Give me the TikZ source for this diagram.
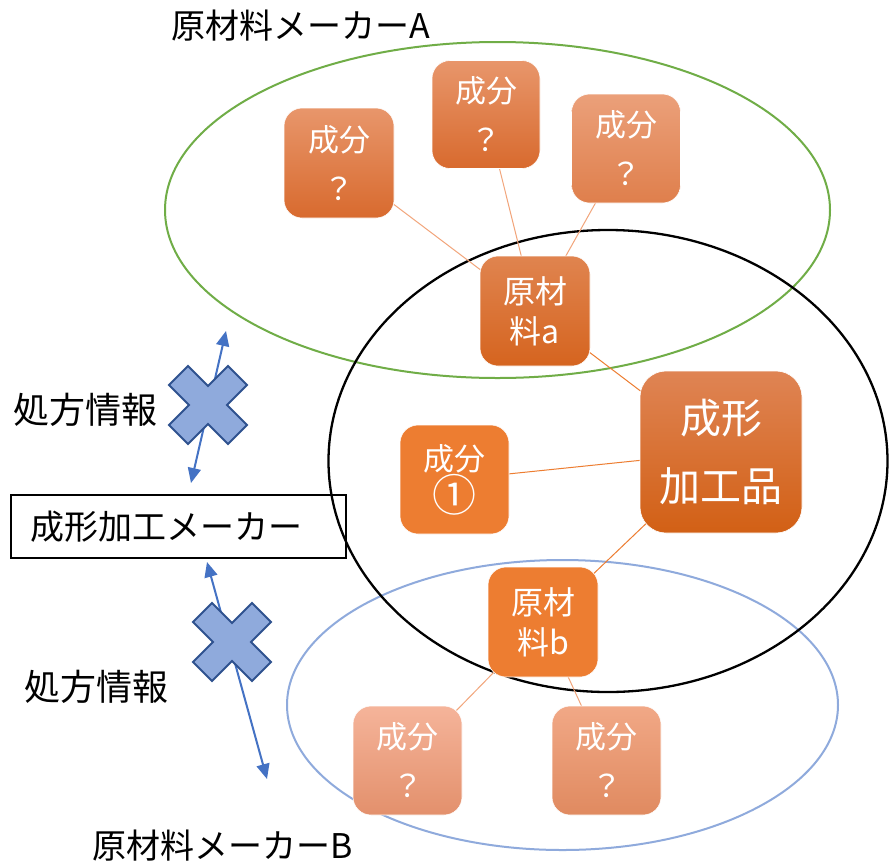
\documentclass[tikz,border=0pt]{standalone}
\usepackage{fontspec}
\setmainfont{Noto Sans CJK JP}
\usetikzlibrary{shapes.geometric,arrows.meta}
\definecolor{orgA}{HTML}{ED7D31}
\definecolor{qTop}{HTML}{E8966B}
\definecolor{qBot}{HTML}{D86A2E}
\definecolor{q3Top}{HTML}{EBA07A}
\definecolor{q3Bot}{HTML}{DF7F4C}
\definecolor{raTop}{HTML}{E0844F}
\definecolor{raBot}{HTML}{D5641F}
\definecolor{skTop}{HTML}{DF8454}
\definecolor{skBot}{HTML}{D26015}
\definecolor{b1Top}{HTML}{F5B49A}
\definecolor{b1Bot}{HTML}{E3906C}
\definecolor{b2Top}{HTML}{F1A886}
\definecolor{b2Bot}{HTML}{E08A60}
\definecolor{lnLight}{HTML}{F2A57B}
\definecolor{ellGreen}{HTML}{70AD47}
\definecolor{ellBlue}{HTML}{8FAADC}
\definecolor{arrBlue}{HTML}{4472C4}
\definecolor{xFill}{HTML}{8FAADC}
\definecolor{xLine}{HTML}{2F528F}
\tikzset{
  box/.style={rounded corners=18pt, minimum width=108pt, minimum height=108pt,
    text=white, align=center, inner sep=0pt, draw=white, line width=0.6pt,
    font=\fontsize{31}{49}\selectfont},
  blabel/.style={font=\fontsize{34}{40}\selectfont, text=black, inner sep=0pt},
  thinline/.style={draw=lnLight, line width=1pt},
  darkline/.style={draw=orgA, line width=1pt},
  ell/.style={ellipse, inner sep=0pt},
  barrow/.style={draw=arrBlue, line width=2pt, {Triangle[length=15pt,width=13pt]}-{Triangle[length=15pt,width=13pt]}},
  xmark/.pic={\draw[fill=xFill, draw=xLine, line width=2pt, line join=miter]
    (-20,-39) -- (0,-19) -- (20,-39) -- (39,-20) -- (19,0) -- (39,20) -- (20,39) -- (0,19)
    -- (-20,39) -- (-39,20) -- (-19,0) -- (-39,-20) -- cycle;}
}
\begin{document}
\begin{tikzpicture}[x=1pt,y=-1pt]
\useasboundingbox[fill=white] (0,0) rectangle (889,863);

% ellipses
\node[ell, draw=ellGreen, line width=2pt, minimum width=665pt, minimum height=336pt] (eA) at (497.5,210) {};
\node[ell, draw=ellBlue, line width=2pt, minimum width=551pt, minimum height=290pt] (eB) at (562.5,705) {};
\node[ell, draw=black, line width=2.3pt, minimum width=559pt, minimum height=462pt] (eC) at (608,461) {};

% coordinates of boxes
\coordinate (pc1) at (339,163);
\coordinate (pc2) at (486,114.5);
\coordinate (pc3) at (626,148.5);
\coordinate (pra) at (535,311);
\coordinate (psk) at (721,452);
\coordinate (ps1) at (454.5,479.5);
\coordinate (prb) at (543,622);
\coordinate (pb1) at (407.5,760.5);
\coordinate (pb2) at (606.5,760.5);

% connectors
\draw[thinline] (pc1) -- (pra);
\draw[thinline] (pc2) -- (pra);
\draw[thinline] (pc3) -- (pra);
\draw[darkline] (pra) -- (psk);
\draw[darkline] (ps1) -- (psk);
\draw[darkline] (psk) -- (prb);
\draw[thinline] (prb) -- (pb1);
\draw[thinline] (prb) -- (pb2);

% boxes
\node[box, top color=qTop, bottom color=qBot, minimum width=110pt, minimum height=110pt] (c1) at (pc1) {成分\\？};
\node[box, top color=qTop, bottom color=qBot] (c2) at (pc2) {成分\\？};
\node[box, top color=q3Top, bottom color=q3Bot, minimum width=109pt, minimum height=109pt] (c3) at (pc3) {成分\\？};
\node[box, top color=raTop, bottom color=raBot, minimum width=110pt, minimum height=110pt, font=\fontsize{32}{40}\selectfont] (ra) at (pra) {原材\\料a};
\node[box, top color=skTop, bottom color=skBot, rounded corners=26pt, minimum width=162pt, minimum height=162pt, font=\fontsize{41}{68}\selectfont] (sk) at (psk) {成形\\加工品};
\node[box, fill=orgA, minimum width=109pt, minimum height=109pt, font=\fontsize{31}{37}\selectfont] (s1) at (ps1) {成分\\{\fontsize{44}{37}\selectfont ①}};
\node[box, fill=orgA, minimum width=110pt, minimum height=110pt, font=\fontsize{32}{40}\selectfont] (rb) at (prb) {原材\\料b};
\node[box, top color=b1Top, bottom color=b1Bot, minimum width=109pt, minimum height=109pt] (b1) at (pb1) {成分\\？};
\node[box, top color=b2Top, bottom color=b2Bot, minimum width=109pt, minimum height=109pt] (b2) at (pb2) {成分\\？};

% labels
\node[blabel] (tA) at (301,26) {原材料メーカーA};
\node[blabel] (tB) at (223,846) {原材料メーカーB};
\node[blabel, font=\fontsize{36}{40}\selectfont] (sh1) at (85,410) {処方情報};
\node[blabel, font=\fontsize{36}{40}\selectfont] (sh2) at (96,687) {処方情報};
\node[draw=black, line width=1.5pt, font=\fontsize{34}{40}\selectfont, anchor=west,
  text width=295pt, align=left, inner xsep=20pt, minimum height=63pt] (mk) at (10,526.5) {成形加工メーカー};

% arrows
\coordinate (a1s) at (191,483);
\coordinate (a1e) at (226,331);
\coordinate (a2s) at (207,562);
\coordinate (a2e) at (267,779);
\draw[barrow] (a1s) -- (a1e);
\draw[barrow] (a2s) -- (a2e);

% crosses
\pic at (208,405) {xmark};
\pic at (232,642) {xmark};
\end{tikzpicture}
\end{document}
